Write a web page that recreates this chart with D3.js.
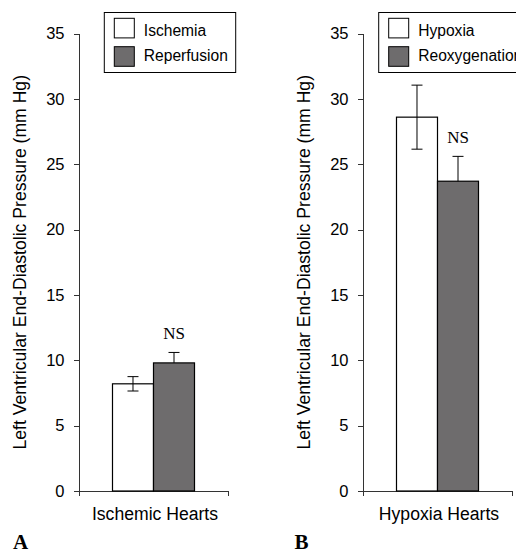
<!DOCTYPE html>
<meta charset="utf-8">
<style>
  body { margin: 0; background: #fff; }
  svg { display: block; }
  .axis path, .axis line { stroke: #333; shape-rendering: crispEdges; }
  .axis text { font-family: "Liberation Sans", Arial, sans-serif; font-size: 16.5px; fill: #000; }
  .ylabel, .xlabel, .legend text { font-family: "Liberation Sans", Arial, sans-serif; fill: #000; }
  .ns { font-family: "Liberation Serif", "Times New Roman", serif; font-size: 17px; }
  .letter { font-family: "Liberation Serif", "Times New Roman", serif; font-size: 21px; font-weight: bold; }
</style>
<body>
<svg id="chart"></svg>
<script src="https://cdn.jsdelivr.net/npm/d3@7"></script>
<script>
  // data
  var groups = ["Ischemic Hearts", "Hypoxia Hearts"];
  var panelLetters = ["A", "B"];
  var firstNames = ["Ischemia", "Hypoxia"];
  var secondNames = ["Reperfusion", "Reoxygenation"];
  var firstValues = [8.2, 28.6];
  var firstErrors = [0.55, 2.45];
  var secondValues = [9.8, 23.7];
  var secondErrors = [0.8, 1.9];
  var yTicks = [0, 5, 10, 15, 20, 25, 30, 35];
  var yLabel = "Left Ventricular End-Diastolic Pressure (mm Hg)";
  var noteText = "NS";

  var width = 516, height = 554;
  var gray = "#6e6c6d";

  var svg = d3.select("#chart")
    .attr("width", width)
    .attr("height", height);

  var y = d3.scaleLinear()
    .domain([0, 35])
    .range([491, 33.5]);

  var panelLeft = [79, 363],
    plotWidth = 149;

  groups.forEach(function (group, i) {
    var g = svg.append("g")
      .attr("transform", "translate(" + panelLeft[i] + ",0)");

    var x = d3.scaleBand()
      .domain([group])
      .range([0, plotWidth])
      .padding(0.29);

    var sub = d3.scaleBand()
      .domain(["first", "second"])
      .range([x(group), x(group) + x.bandwidth()]);

    var bars = [
      { key: "first", value: firstValues[i], err: firstErrors[i], fill: "#fff", both: true },
      { key: "second", value: secondValues[i], err: secondErrors[i], fill: gray, both: false }
    ];

    // y axis
    g.append("g")
      .attr("class", "axis")
      .call(d3.axisLeft(y).tickValues(yTicks).tickSize(5).tickPadding(9.5))
      .call(function (a) { a.select(".domain").attr("d", "M0," + y(35) + "V" + (y(0) + 5)); });

    // x axis with end ticks only
    var xEnds = d3.scaleLinear().domain([0, 1]).range([0, plotWidth]);
    g.append("g")
      .attr("class", "axis")
      .attr("transform", "translate(0," + y(0) + ")")
      .call(d3.axisBottom(xEnds).tickValues([1]).tickSize(5).tickSizeOuter(0).tickFormat(""));

    g.selectAll("rect.bar")
      .data(bars)
      .enter().append("rect")
      .attr("class", "bar")
      .attr("x", function (d) { return sub(d.key); })
      .attr("y", function (d) { return y(d.value); })
      .attr("width", sub.bandwidth())
      .attr("height", function (d) { return y(0) - y(d.value); })
      .attr("fill", function (d) { return d.fill; })
      .attr("stroke", "#000")
      .attr("stroke-width", 1.2);

    // error bars
    var cap = 5.5;
    bars.forEach(function (d) {
      var cx = sub(d.key) + sub.bandwidth() / 2;
      var lo = d.both ? d.value - d.err : d.value;
      g.append("line")
        .attr("x1", cx).attr("x2", cx)
        .attr("y1", y(d.value + d.err)).attr("y2", y(lo))
        .attr("stroke", "#000").attr("stroke-width", 1);
      g.append("line")
        .attr("x1", cx - cap).attr("x2", cx + cap)
        .attr("y1", y(d.value + d.err)).attr("y2", y(d.value + d.err))
        .attr("stroke", "#000").attr("stroke-width", 1);
      if (d.both) {
        g.append("line")
          .attr("x1", cx - cap).attr("x2", cx + cap)
          .attr("y1", y(lo)).attr("y2", y(lo))
          .attr("stroke", "#000").attr("stroke-width", 1);
      }
    });

    // NS above the second bar
    g.append("text")
      .attr("class", "ns")
      .attr("x", sub("second") + sub.bandwidth() / 2)
      .attr("y", y(secondValues[i] + secondErrors[i]) - 13)
      .attr("text-anchor", "middle")
      .text(noteText);

    // axis titles
    g.append("text")
      .attr("class", "ylabel")
      .attr("transform", "translate(-53," + (y(0) + y(35)) / 2 + ")rotate(-90)")
      .attr("text-anchor", "middle")
      .style("font-size", "17.6px")
      .text(yLabel);

    g.append("text")
      .attr("class", "xlabel")
      .attr("x", plotWidth / 2 + 1.5)
      .attr("y", 520)
      .attr("text-anchor", "middle")
      .style("font-size", "17.6px")
      .text(group);

    // legend
    var lx = i === 0 ? 25.3 : 15.7;
    var legend = g.append("g")
      .attr("class", "legend")
      .attr("transform", "translate(" + lx + ",12.5)");
    var box = legend.append("rect")
      .attr("height", 60)
      .attr("fill", "#fff")
      .attr("stroke", "#000")
      .attr("stroke-width", 1);
    var items = [
      { name: firstNames[i], fill: "#fff" },
      { name: secondNames[i], fill: gray }
    ];
    var maxW = 0;
    items.forEach(function (d, j) {
      legend.append("rect")
        .attr("x", 10)
        .attr("y", 5.8 + j * 28.4)
        .attr("width", 20)
        .attr("height", 19.6)
        .attr("fill", d.fill)
        .attr("stroke", "#000")
        .attr("stroke-width", 1);
      var t = legend.append("text")
        .attr("x", 39.5)
        .attr("y", 23.3 + j * 25.2)
        .style("font-size", "15.6px")
        .text(d.name);
      maxW = Math.max(maxW, t.node().getComputedTextLength());
    });
    box.attr("width", i === 0 ? 131.4 : 39.5 + maxW + 8);

    // panel letter
    svg.append("text")
      .attr("class", "letter")
      .attr("x", i === 0 ? 13 : 294.5)
      .attr("y", 549)
      .text(panelLetters[i]);
  });
</script>
</body>
